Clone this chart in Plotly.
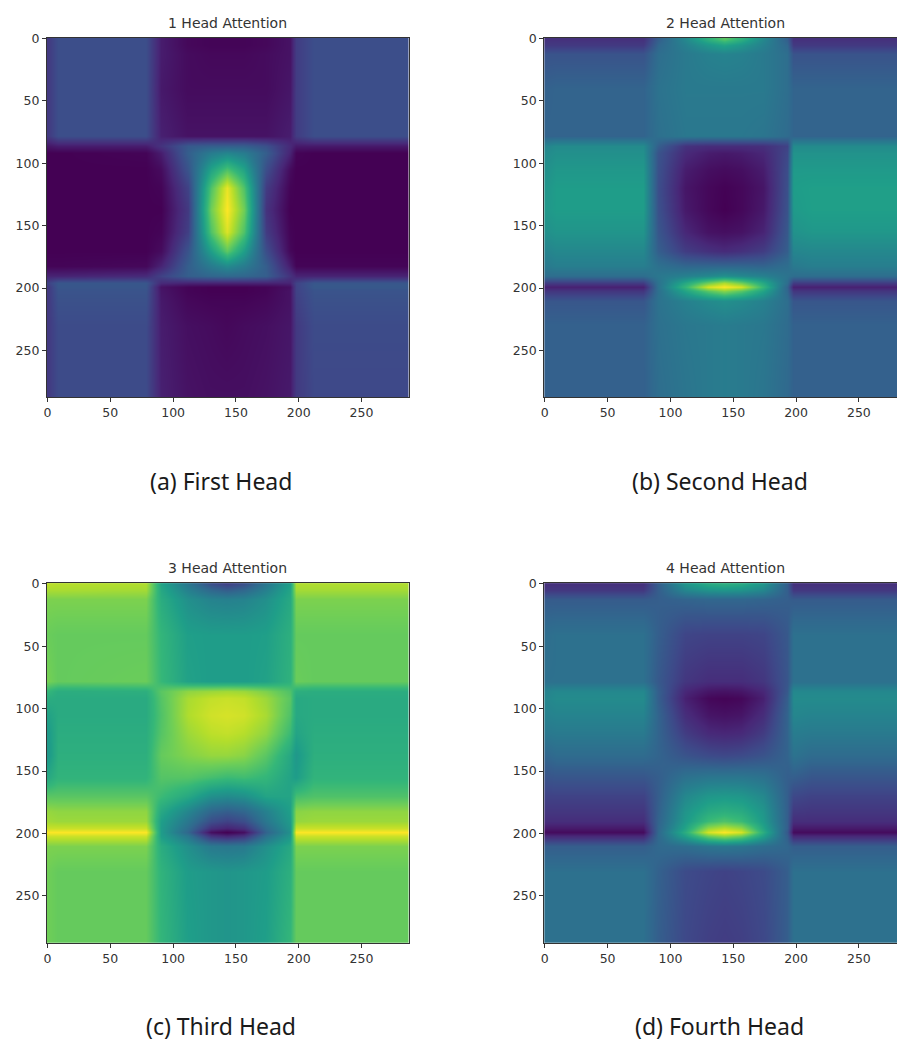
import plotly.graph_objects as go

# node positions (pixel index in the attention map)
x_nodes = [0, 8, 78, 90, 112, 130, 143, 156, 174, 193, 198, 212, 287]
y_nodes = [0, 5, 12, 40, 78, 86, 92, 105, 120, 137, 155, 170, 182, 190, 196, 199, 202, 210, 230, 287]
tick_vals = [0, 50, 100, 150, 200, 250]
titles = ["1 Head Attention", "2 Head Attention", "3 Head Attention", "4 Head Attention"]
captions = ["(a) First Head", "(b) Second Head", "(c) Third Head", "(d) Fourth Head"]

head1 = [
    [.17,.24,.24,.08,.02,.01,.01,.01,.02,.05,.18,.24,.24],
    [.17,.24,.24,.08,.02,.01,.01,.01,.02,.05,.18,.24,.24],
    [.17,.24,.24,.08,.03,.02,.02,.02,.03,.05,.18,.24,.24],
    [.17,.24,.24,.07,.03,.03,.03,.03,.03,.06,.18,.24,.24],
    [.17,.24,.24,.09,.05,.05,.05,.05,.05,.08,.18,.24,.24],
    [.06,.08,.08,.15,.28,.30,.30,.30,.25,.12,.07,.07,.07],
    [0,0,.01,.08,.30,.42,.46,.42,.30,.10,.01,0,0],
    [0,0,0,.03,.26,.58,.72,.58,.24,.03,0,0,0],
    [0,0,0,.01,.20,.72,.97,.72,.18,.01,0,0,0],
    [0,0,0,0,.17,.78,1.0,.78,.15,0,0,0,0],
    [0,0,0,.01,.19,.72,.95,.72,.18,.01,0,0,0],
    [0,0,0,.03,.26,.56,.75,.56,.24,.02,0,0,0],
    [.01,.01,.02,.10,.30,.42,.48,.42,.30,.08,.01,.01,.01],
    [.10,.10,.12,.20,.30,.33,.34,.33,.30,.15,.10,.10,.10],
    [.20,.27,.27,.12,.10,.10,.10,.10,.10,.10,.20,.27,.27],
    [.17,.27,.27,.05,.01,0,0,0,.01,.04,.20,.28,.28],
    [.17,.26,.26,.06,.01,0,0,0,.01,.05,.20,.26,.26],
    [.17,.25,.25,.07,.02,.01,.01,.01,.02,.05,.19,.25,.25],
    [.17,.23,.23,.08,.04,.03,.02,.03,.04,.06,.17,.23,.23],
    [.17,.23,.23,.09,.05,.04,.04,.04,.05,.07,.17,.22,.22],
]
head2 = [
    [.14,.14,.14,.30,.47,.64,.74,.64,.47,.30,.14,.14,.14],
    [.17,.17,.17,.33,.44,.53,.58,.53,.44,.33,.17,.17,.17],
    [.26,.26,.26,.36,.41,.44,.45,.44,.41,.36,.26,.26,.26],
    [.31,.32,.32,.38,.41,.41,.41,.41,.41,.36,.32,.32,.32],
    [.32,.32,.32,.37,.40,.40,.40,.40,.39,.35,.32,.32,.32],
    [.45,.48,.48,.30,.15,.13,.13,.13,.14,.20,.48,.48,.48],
    [.48,.50,.50,.26,.12,.08,.07,.08,.11,.22,.51,.51,.51],
    [.50,.53,.53,.25,.08,.04,.03,.04,.08,.24,.54,.54,.54],
    [.52,.55,.55,.24,.06,.02,.005,.02,.06,.25,.55,.56,.56],
    [.53,.55,.55,.25,.07,.02,0,.02,.07,.26,.54,.56,.56],
    [.50,.52,.52,.27,.11,.05,.04,.05,.10,.28,.51,.53,.53],
    [.45,.47,.47,.30,.18,.14,.12,.14,.18,.30,.46,.47,.47],
    [.41,.43,.43,.37,.33,.33,.33,.33,.32,.36,.41,.43,.43],
    [.36,.36,.36,.40,.44,.47,.50,.47,.44,.38,.36,.36,.36],
    [.18,.18,.18,.38,.60,.78,.88,.78,.60,.36,.18,.18,.18],
    [.09,.09,.09,.38,.66,.94,1.0,.94,.66,.32,.09,.09,.09],
    [.16,.16,.16,.37,.58,.74,.82,.74,.58,.33,.16,.16,.16],
    [.27,.27,.27,.38,.44,.48,.50,.48,.44,.36,.27,.27,.27],
    [.31,.31,.31,.37,.40,.41,.42,.41,.40,.35,.31,.31,.31],
    [.31,.31,.31,.36,.39,.41,.42,.41,.39,.34,.31,.31,.31],
]
head3 = [
    [.90,.89,.88,.58,.40,.25,.20,.25,.40,.56,.88,.88,.88],
    [.87,.87,.86,.60,.44,.34,.30,.34,.44,.58,.86,.86,.86],
    [.80,.80,.80,.62,.50,.45,.44,.45,.50,.60,.80,.80,.80],
    [.77,.76,.76,.66,.56,.55,.55,.55,.56,.63,.76,.76,.76],
    [.79,.76,.77,.67,.57,.55,.55,.55,.57,.64,.77,.76,.76],
    [.66,.62,.63,.74,.83,.85,.86,.85,.80,.72,.63,.62,.62],
    [.62,.61,.61,.73,.87,.91,.92,.91,.85,.74,.60,.61,.61],
    [.57,.61,.61,.72,.88,.93,.94,.93,.87,.72,.60,.61,.61],
    [.54,.62,.62,.73,.85,.90,.91,.89,.83,.68,.58,.62,.62],
    [.53,.63,.63,.76,.81,.84,.84,.82,.74,.60,.53,.63,.63],
    [.60,.65,.65,.73,.73,.70,.68,.69,.66,.58,.55,.65,.65],
    [.74,.74,.74,.68,.60,.50,.48,.50,.58,.58,.70,.72,.72],
    [.84,.83,.83,.60,.46,.33,.30,.33,.44,.56,.82,.83,.83],
    [.86,.85,.85,.56,.40,.24,.20,.24,.40,.54,.84,.85,.85],
    [.92,.92,.92,.55,.36,.14,.10,.14,.35,.52,.92,.92,.92],
    [1.0,1.0,1.0,.55,.33,.04,0,.04,.32,.50,1.0,1.0,1.0],
    [.92,.92,.92,.56,.40,.16,.12,.16,.38,.53,.92,.92,.92],
    [.80,.80,.80,.62,.50,.41,.40,.41,.50,.60,.80,.80,.80],
    [.78,.76,.76,.65,.55,.53,.52,.53,.55,.63,.76,.76,.76],
    [.78,.76,.76,.66,.56,.53,.52,.53,.56,.66,.76,.76,.76],
]
head4 = [
    [.14,.14,.14,.30,.52,.60,.62,.60,.52,.30,.14,.14,.14],
    [.17,.17,.17,.30,.46,.51,.52,.51,.46,.30,.17,.17,.17],
    [.29,.29,.29,.30,.32,.33,.33,.33,.32,.30,.29,.29,.29],
    [.36,.37,.37,.30,.21,.20,.20,.20,.21,.28,.37,.37,.37],
    [.37,.37,.37,.28,.16,.13,.13,.13,.16,.27,.37,.37,.37],
    [.45,.47,.47,.30,.11,.06,.05,.06,.11,.28,.47,.47,.47],
    [.46,.48,.48,.30,.09,.02,.01,.02,.09,.30,.48,.48,.48],
    [.44,.45,.45,.32,.13,.06,.05,.06,.13,.32,.46,.45,.45],
    [.40,.41,.41,.32,.18,.12,.11,.12,.18,.32,.42,.41,.41],
    [.33,.35,.35,.32,.26,.23,.22,.23,.26,.32,.38,.35,.35],
    [.26,.27,.27,.30,.38,.40,.40,.40,.38,.30,.30,.27,.27],
    [.20,.20,.20,.30,.47,.53,.54,.53,.47,.30,.22,.20,.20],
    [.16,.16,.16,.31,.52,.61,.63,.61,.52,.30,.17,.16,.16],
    [.13,.13,.13,.32,.54,.68,.72,.68,.54,.30,.13,.13,.13],
    [.07,.07,.07,.33,.58,.84,.90,.84,.58,.30,.07,.07,.07],
    [.03,.03,.03,.34,.62,.94,1.0,.94,.62,.28,.03,.03,.03],
    [.12,.12,.12,.34,.56,.76,.82,.76,.56,.30,.12,.12,.12],
    [.30,.30,.30,.34,.36,.39,.40,.39,.36,.33,.30,.30,.30],
    [.37,.37,.37,.31,.23,.21,.20,.21,.23,.30,.37,.37,.37],
    [.37,.37,.37,.30,.22,.19,.18,.19,.22,.30,.37,.37,.37],
]
heads = [head1, head2, head3, head4]

W, H = 897, 1043
# pixel boxes of the panels: left, right, top, bottom
boxes = [(44, 407, 31, 393), (543, 897, 31, 393), (44, 407, 580, 942), (543, 897, 580, 942)]
cap_y = [477, 477, 1026, 1026]
cap_x = [219, 719, 219, 719]
PX_PER_UNIT = 363 / 288

fig = go.Figure()
layout = dict(width=W, height=H, margin=dict(l=0, r=0, t=0, b=0),
              paper_bgcolor="white", plot_bgcolor="white", showlegend=False, annotations=[])
axis_font = dict(family="DejaVu Sans", size=12.5, color="#333333")

for i, (z, box) in enumerate(zip(heads, boxes)):
    n = "" if i == 0 else str(i + 1)
    l, r, t, b = box
    fig.add_trace(go.Heatmap(x=x_nodes, y=y_nodes, z=z, colorscale="Viridis", zmin=0, zmax=1,
                             zsmooth="best", showscale=False, xaxis="x" + n, yaxis="y" + n))
    clipped = r >= W
    x_end = -0.5 + (r - l) / PX_PER_UNIT
    layout["xaxis" + n] = dict(domain=[l / W, r / W], range=[-0.5, x_end], anchor="y" + n,
                               tickmode="array", tickvals=tick_vals, ticks="outside", ticklen=4,
                               tickwidth=1, tickcolor="#333333", showgrid=False, zeroline=False,
                               showline=True, linecolor="#333333", linewidth=1, mirror=True,
                               tickfont=axis_font)
    layout["yaxis" + n] = dict(domain=[1 - b / H, 1 - t / H], range=[287.5, -0.5], anchor="x" + n,
                               tickmode="array", tickvals=tick_vals, ticks="outside", ticklen=4,
                               tickwidth=1, tickcolor="#333333", showgrid=False, zeroline=False,
                               showline=True, linecolor="#333333", linewidth=1,
                               mirror=not clipped, tickfont=axis_font)
    title_cx = (l + l + 363) / 2
    layout["annotations"].append(dict(text=titles[i], xref="paper", yref="paper",
                                      x=title_cx / W, y=1 - (t - 5) / H, xanchor="center", yanchor="bottom",
                                      showarrow=False, font=dict(family="DejaVu Sans", size=14, color="#333333")))
    layout["annotations"].append(dict(text=captions[i], xref="paper", yref="paper",
                                      x=cap_x[i] / W, y=1 - cap_y[i] / H, xanchor="center", yanchor="middle",
                                      showarrow=False, font=dict(family="Noto Sans", size=23, color="#1a1a1a")))

fig.update_layout(**layout)
fig.write_html("out.html", config={"displayModeBar": False},
               post_script="document.body.style.margin='0';document.body.style.overflow='hidden';")
